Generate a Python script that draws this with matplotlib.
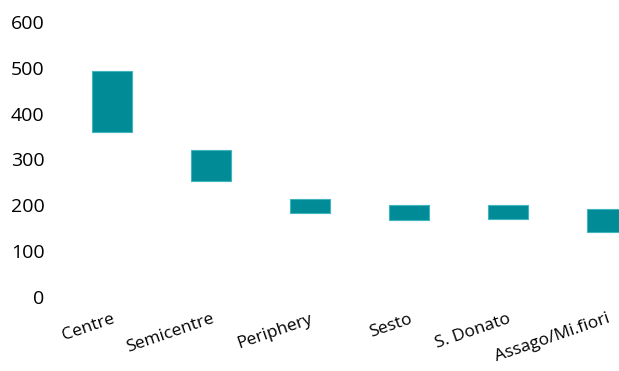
import matplotlib.pyplot as plt

areas = ['Centre', 'Semicentre', 'Periphery', 'Sesto', 'S. Donato', 'Assago/Mi.fiori']
low = [360, 253, 183, 167, 171, 141]
high = [493, 321, 214, 201, 201, 192]
yticks = [0, 100, 200, 300, 400, 500, 600]

plt.rcParams['font.family'] = ['Open Sans', 'DejaVu Sans']

fig = plt.figure(figsize=(6.19, 3.71), dpi=100)
ax = fig.add_axes([62.5 / 619, 74 / 371, (619 - 62.5) / 619, 275 / 371])

heights = [h - l for l, h in zip(low, high)]
ax.bar(range(len(areas)), heights, bottom=low, width=0.4, color='#008B96',
       edgecolor='#3FB5BE', linewidth=0.8)

ax.set_xlim(-0.5, (619 - 112) / 99)
ax.set_ylim(0, 600)
ax.set_yticks(yticks)
ax.set_xticks(range(len(areas)))
ax.set_xticklabels(areas, rotation=19, ha='right', rotation_mode='anchor', fontsize=12.5)
ax.tick_params(axis='y', length=0, pad=13, labelsize=14)
ax.tick_params(axis='x', length=0, pad=10)
for s in ax.spines.values():
    s.set_visible(False)

fig.savefig('out.png', dpi=100)
